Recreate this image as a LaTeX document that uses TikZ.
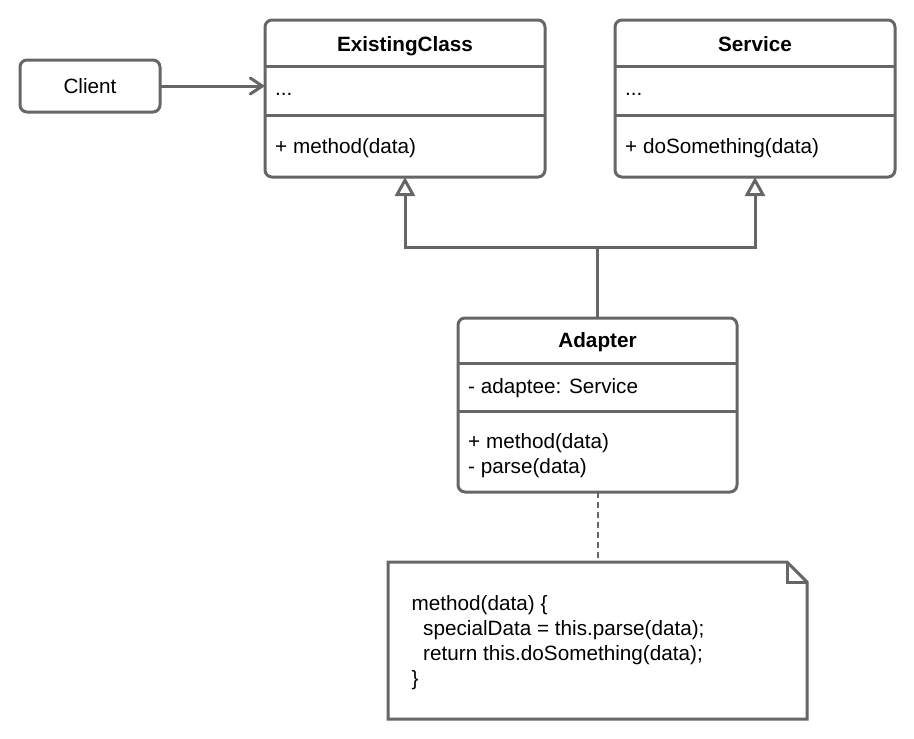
\documentclass[tikz,border=0pt]{standalone}
\usepackage{fontspec}
\setmainfont{Liberation Sans}
\usetikzlibrary{arrows.meta}
\definecolor{linegray}{HTML}{666666}
\begin{document}
\begin{tikzpicture}[x=1pt,y=-1pt,
  box/.style={draw=linegray, line width=3pt, rounded corners=7pt, fill=white, inner sep=0pt, outer sep=0pt, anchor=north west},
  divline/.style={draw=linegray, line width=3pt},
  txt/.style={inner sep=0pt, anchor=base west, font=\fontsize{20.7}{25}\selectfont},
  ttl/.style={inner sep=0pt, anchor=base, font=\fontsize{20.7}{25}\selectfont\bfseries},
  conn/.style={draw=linegray, line width=3pt},
  assoc/.style={conn, -{Straight Barb[length=12pt, width=16pt, line cap=round]}},
  inh/.style={conn, line join=miter, -{Triangle[open, length=19pt, width=20pt, fill=white]}},
  anchorline/.style={draw=linegray, line width=2pt, dash pattern=on 6pt off 4pt}
]
\useasboundingbox (0,0) rectangle (914,739);

% Client
\node[box, minimum width=140pt, minimum height=52pt] (cl) at (20,60) {};
\node[inner sep=0pt, anchor=base, font=\fontsize{20.7}{25}\selectfont] (cltxt) at (90,93.5) {Client};

% ExistingClass
\node[box, minimum width=280pt, minimum height=157pt] (ec) at (265,20) {};
\draw[divline] (265,66) -- (545,66);
\draw[divline] (265,115) -- (545,115);
\node[ttl] (ectitle) at (405,51) {ExistingClass};
\node[txt] (ecattr) at (275,95) {...};
\node[txt] (ecop) at (275,153) {+ method(data)};

% Service
\node[box, minimum width=280pt, minimum height=157pt] (sv) at (615,20) {};
\draw[divline] (615,66) -- (895,66);
\draw[divline] (615,115) -- (895,115);
\node[ttl] (svtitle) at (755,51) {Service};
\node[txt] (svattr) at (625,95) {...};
\node[txt] (svop) at (625,153) {+ doSomething(data)};

% Adapter
\node[box, minimum width=279pt, minimum height=174pt] (ad) at (458,318) {};
\draw[divline] (458,363) -- (737,363);
\draw[divline] (458,411) -- (737,411);
\node[ttl] (adtitle) at (597.5,347.5) {Adapter};
\node[txt] (adattr) at (468,393.3) {- adaptee: Service};
\node[txt] (adop1) at (468,448.3) {+ method(data)};
\node[txt] (adop2) at (468,473.3) {- parse(data)};

% Note
\node[inner sep=0pt, outer sep=0pt, minimum width=419pt, minimum height=157pt, anchor=north west] (note) at (388,562) {};
\draw[linegray, line width=3pt, line join=miter]
  (note.north west) -- ([xshift=-20pt]note.north east) -- ([yshift=-20pt]note.north east)
  -- (note.south east) -- (note.south west) -- cycle;
\draw[linegray, line width=3pt, line join=miter]
  ([xshift=-20pt]note.north east) -- ([xshift=-20pt,yshift=-20pt]note.north east) -- ([yshift=-20pt]note.north east);
\node[txt] (n1) at (411.5,610) {method(data) \{};
\node[txt] (n2) at (423,635) {specialData = this.parse(data);};
\node[txt] (n3) at (423,660.5) {return this.doSomething(data);};
\node[txt] (n4) at (411.5,685) {\}};

% Connectors
\coordinate (jn) at (597.5,247);
\draw[assoc] (cl.east) -- (cl.east -| ec.west);
\draw[inh] (ad.north) -- (jn) -| (ec.south);
\draw[inh] (jn) -| (sv.south);
\draw[anchorline] (ad.south) -- (ad.south |- note.north);
\end{tikzpicture}
\end{document}
